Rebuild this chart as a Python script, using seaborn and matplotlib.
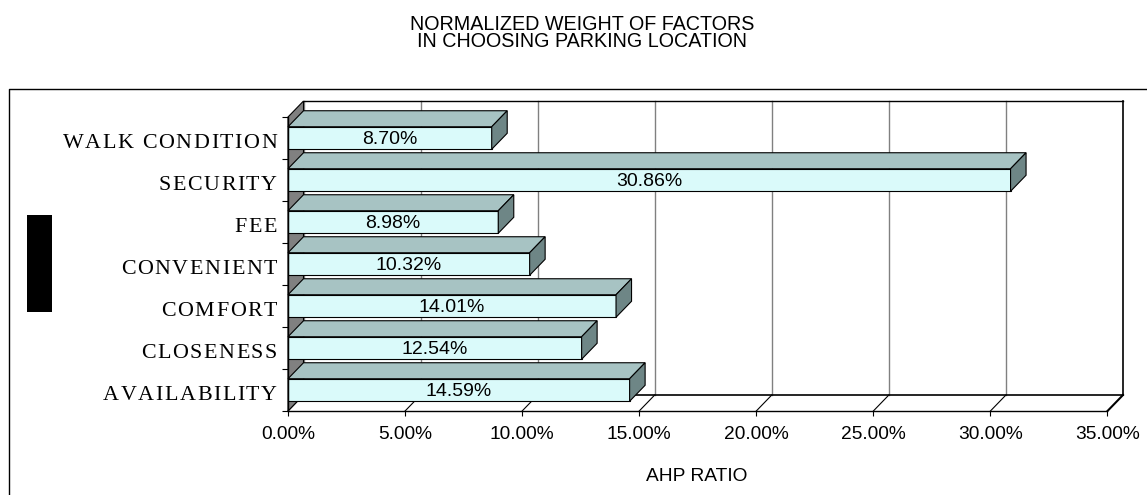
import matplotlib
matplotlib.use('Agg')
import matplotlib.pyplot as plt
import seaborn as sns
import pandas as pd
from matplotlib.patches import Polygon, Rectangle
from matplotlib.lines import Line2D
from matplotlib import transforms
from matplotlib.font_manager import FontProperties, findfont
from matplotlib.ft2font import FT2Font

# data
factors = ['WALK CONDITION', 'SECURITY', 'FEE', 'CONVENIENT',
           'COMFORT', 'CLOSENESS', 'AVAILABILITY']
weights = [8.70, 30.86, 8.98, 10.32, 14.01, 12.54, 14.59]
x_ticks = [0, 5, 10, 15, 20, 25, 30, 35]
x_tick_labels = ['0.00%', '5.00%', '10.00%', '15.00%',
                 '20.00%', '25.00%', '30.00%', '35.00%']
title_lines = ['NORMALIZED WEIGHT OF FACTORS', 'IN CHOOSING PARKING LOCATION']
x_label = 'AHP RATIO'

W, H = 1147, 495
front_c = '#DAFAFA'
top_c = '#A7C3C3'
side_c = '#6E8686'
wall_c = '#808080'
grid_c = '#808080'

plt.rcParams['font.family'] = ['Liberation Sans', 'DejaVu Sans']

fig = plt.figure(figsize=(W / 100, H / 100), dpi=100)


def fx(px):
    return px / W


def fy(py):
    return 1 - py / H


ax = fig.add_axes([fx(288), fy(411), fx(1123) - fx(288), fy(101) - fy(411)])

# depth of the fake 3d box in data units
DX = 15.5 / (819 / 35)
DY = 16 / 42

df = pd.DataFrame({'factor': factors, 'weight': weights})
sns.barplot(data=df, x='weight', y='factor', order=factors, orient='h',
            width=0.536, color=front_c, saturation=1, edgecolor='black',
            linewidth=0.8, ax=ax, zorder=3)
bars = list(ax.patches)

ax.set_xlim(0, 35 + DX)
ax.set_ylim(6.5, -0.5 - DY)
for s in ax.spines.values():
    s.set_visible(False)
ax.patch.set_visible(False)
ax.set_xlabel('')
ax.set_ylabel('')

# back wall + gridlines
ax.add_patch(Rectangle((DX, -0.5 - DY), 35, 7, facecolor='white',
                       edgecolor='none', zorder=0, clip_on=False))
for t in x_ticks[:-1]:
    ax.plot([t + DX, t + DX], [-0.5 - DY, 6.5 - DY], color=grid_c, lw=1,
            zorder=1, clip_on=False)
ax.plot([35 + DX, 35 + DX], [-0.5 - DY, 6.5 - DY], color='black', lw=1.2,
        zorder=1, clip_on=False)
ax.plot([DX, 35 + DX], [-0.5 - DY, -0.5 - DY], color='black', lw=1,
        zorder=1, clip_on=False)
ax.plot([DX, 35 + DX], [6.5 - DY, 6.5 - DY], color='black', lw=1.2,
        zorder=1, clip_on=False)

# floor diagonals
for t in x_ticks:
    ax.plot([t, t + DX], [6.5, 6.5 - DY], color='black',
            lw=1.5 if t == x_ticks[-1] else 0.8, zorder=1, clip_on=False)

# left wall
ax.add_patch(Polygon([(0, -0.5), (DX, -0.5 - DY), (DX, 6.5 - DY), (0, 6.5)],
                     facecolor=wall_c, edgecolor='black', lw=0.8, zorder=2,
                     clip_on=False))

# top and side faces of bars
for p in bars:
    y0 = p.get_y()
    h = p.get_height()
    v = p.get_width()
    ax.add_patch(Polygon([(0, y0), (v, y0), (v + DX, y0 - DY), (DX, y0 - DY)],
                         facecolor=top_c, edgecolor='black', lw=0.8, zorder=3,
                         clip_on=False))
    ax.add_patch(Polygon([(v, y0), (v, y0 + h), (v + DX, y0 + h - DY),
                          (v + DX, y0 - DY)],
                         facecolor=side_c, edgecolor='black', lw=0.8, zorder=3,
                         clip_on=False))

for i, v in enumerate(weights):
    ax.text(v / 2, i + 0.15, f'{v:.2f}%', ha='center', va='baseline',
            fontsize=14, color='black', zorder=5)

# axis lines
ax.plot([0, 35], [6.5, 6.5], color='black', lw=1, zorder=4, clip_on=False)
ax.plot([0, 0], [-0.5, 6.5], color='black', lw=1, zorder=4, clip_on=False)

ax.set_xticks(x_ticks, x_tick_labels)
ax.tick_params(axis='x', direction='out', length=3.6, width=0.8,
               color='black', pad=7, labelsize=13.8, labelcolor='black',
               bottom=True)
ax.set_yticks([k - 0.5 for k in range(8)], [''] * 8)
ax.tick_params(axis='y', direction='out', length=4.3, width=0.8,
               color='black', left=True)

# category labels, letter spaced serif
serif_size = 15.8
ft = FT2Font(findfont(FontProperties(family='Liberation Serif')))
ft.set_size(serif_size, 100)


def advance(ch):
    g = ft.load_char(ord(ch))
    return g.linearHoriAdvance / 65536


lab_tr = transforms.blended_transform_factory(fig.transFigure, ax.transData)
gap = 1.6
for i, name in enumerate(factors):
    adv = [advance(c) for c in name]
    total = sum(adv) + gap * (len(name) - 1)
    x = 277 - total
    for c, a in zip(name, adv):
        if c != ' ':
            fig.text(fx(x), i + 0.245, c, transform=lab_tr, ha='left',
                     va='baseline', fontsize=serif_size,
                     family='Liberation Serif', color='black')
        x += a + gap

# title as one two-line text (baseline anchor = last line)
fig.text(fx(582), fy(46.7), '\n'.join(title_lines), ha='center',
         va='baseline', multialignment='center', linespacing=0.88,
         fontsize=14.2, color='black')
fig.text(fx(697), fy(481), x_label, ha='center', va='baseline',
         fontsize=13.8, color='black')

# outer frame and the black block on the left
fig.add_artist(Line2D([fx(8.5), fx(8.5), fx(1150)], [fy(500), fy(88.5), fy(88.5)],
                      color='black', lw=1))
fig.add_artist(Rectangle((fx(27), fy(312)), fx(52) - fx(27), fy(215) - fy(312),
                         facecolor='black', edgecolor='none',
                         transform=fig.transFigure))

fig.savefig('out.png', dpi=100)
